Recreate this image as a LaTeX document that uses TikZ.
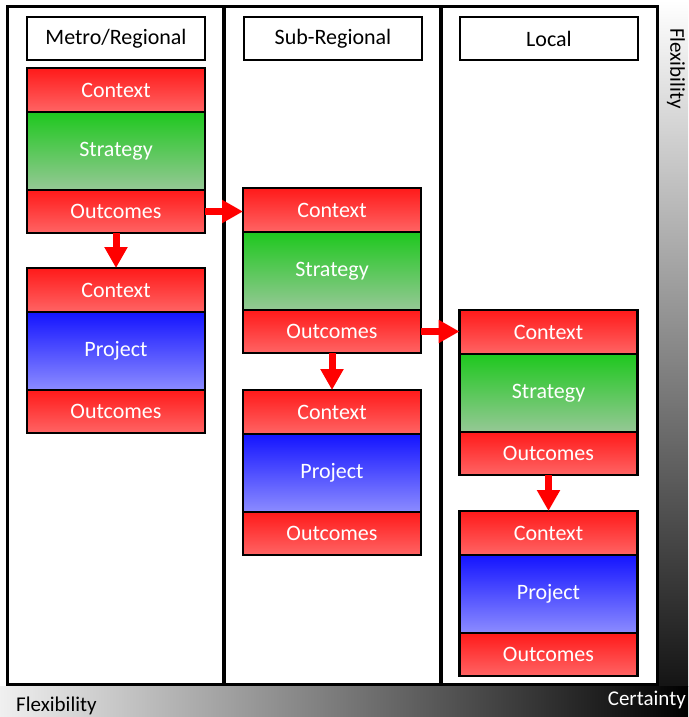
\documentclass[tikz,border=0pt]{standalone}
\usepackage{fontspec}
\setmainfont{Carlito}
\usetikzlibrary{positioning,arrows.meta}

\definecolor{ctxtop}{HTML}{FF1A1A}
\definecolor{ctxbot}{HTML}{FF6464}
\definecolor{strtop}{HTML}{1EC81E}
\definecolor{strbot}{HTML}{96C896}
\definecolor{prjtop}{HTML}{1414FF}
\definecolor{prjbot}{HTML}{8C8CFF}

\begin{document}
\begin{tikzpicture}
	[x=1pt,y=-1pt,
	stage/.style={rectangle,draw=black,line width=2.5pt,minimum width=178pt,inner sep=0pt,outer sep=0pt,text=white,font=\fontsize{22}{26}\selectfont},
	header/.style={stage,fill=white,text=black,minimum height=43pt},
	context/.style={stage,top color=ctxtop,bottom color=ctxbot,minimum height=44pt},
	outcome/.style={stage,top color=ctxtop,bottom color=ctxbot,minimum height=43pt},
	strategy/.style={stage,top color=strtop,bottom color=strbot,minimum height=78pt},
	project/.style={stage,top color=prjtop,bottom color=prjbot,minimum height=78pt},
	flow/.style={red,line width=7pt,-{Triangle[width=22pt,length=21pt]}},
	axis/.style={font=\fontsize{21}{25}\selectfont,inner sep=0pt}]
	\useasboundingbox (0,0) rectangle (688,717);

	% gradient axes
	\shade [top color=white,bottom color=black!92] (657,0) rectangle (688,686);
	\shade [left color=black!6,right color=black] (0,686) rectangle (688,717);
	\node [axis,rotate=-90,anchor=west] (fy) at (676,28) {Flexibility};
	\node [axis,anchor=west] (fx) at (16,706) {Flexibility};
	\node [axis,anchor=east,text=white] (cx) at (686,700) {Certainty};

	% frame and columns
	\draw [line width=3pt,fill=white] (7,7) rectangle (657,684);
	\draw [line width=4pt] (224,7) -- (224,684);
	\draw [line width=4pt] (441,7) -- (441,684);

	\node [header] (hm) at (116,38.5) {Metro/Regional};
	\node [header] (hs) at (333,38.5) {Sub-Regional};
	\node [header] (hl) at (549,38.5) {Local};

	% metro/regional
	\node [context,anchor=north] (m1) at (116,68) {Context};
	\node [strategy] (m2) [below=0pt of m1] {Strategy};
	\node [outcome] (m3) [below=0pt of m2] {Outcomes};
	\node [context] (m4) [below=35pt of m3] {Context};
	\node [project] (m5) [below=0pt of m4] {Project};
	\node [outcome] (m6) [below=0pt of m5] {Outcomes};

	% sub-regional
	\node [context,anchor=north] (s1) at (332,188) {Context};
	\node [strategy] (s2) [below=0pt of s1] {Strategy};
	\node [outcome] (s3) [below=0pt of s2] {Outcomes};
	\node [context] (s4) [below=37pt of s3] {Context};
	\node [project] (s5) [below=0pt of s4] {Project};
	\node [outcome] (s6) [below=0pt of s5] {Outcomes};

	% local
	\node [context,anchor=north] (l1) at (548.5,310) {Context};
	\node [strategy] (l2) [below=0pt of l1] {Strategy};
	\node [outcome] (l3) [below=0pt of l2] {Outcomes};
	\node [context] (l4) [below=36pt of l3] {Context};
	\node [project] (l5) [below=0pt of l4] {Project};
	\node [outcome] (l6) [below=0pt of l5] {Outcomes};

	\draw [flow] (m3) -- (m4);
	\draw [flow] (s3) -- (s4);
	\draw [flow] (l3) -- (l4);
	\draw [flow] (m3.east) -- (m3.east -| s1.west);
	\draw [flow] (s3.east) -- (s3.east -| l1.west);

\end{tikzpicture}
\end{document}
